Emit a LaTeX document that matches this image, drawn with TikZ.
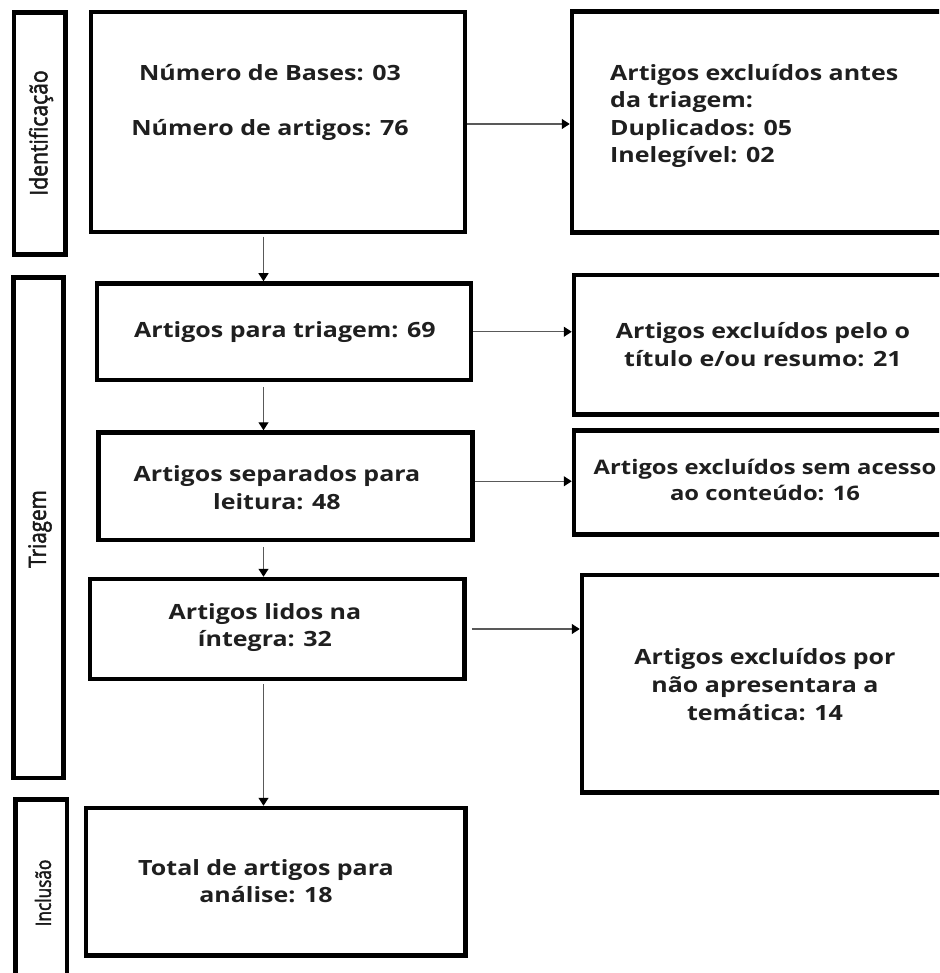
\documentclass[tikz,border=0pt]{standalone}
\usepackage{fontspec}
\setmainfont{Open Sans}
\newfontfamily\boxfont[FakeStretch=1.19]{Open Sans}
\newfontfamily\sidefont[FakeBold=2.2]{Open Sans}
\usetikzlibrary{arrows.meta}
\begin{document}
\begin{tikzpicture}[x=1pt,y=-1pt,
  box/.style={draw=black, line width=4.5pt, rectangle, inner sep=0pt},
  conn/.style={draw=black!65, line width=1.2pt, -{Triangle[length=8pt,width=10pt,black]}},
  txt/.style={font=\boxfont\bfseries\fontsize{21}{27.5}\selectfont, align=center, inner sep=0pt, text=black!88},
  side/.style={font=\sidefont\fontsize{24}{24}\selectfont, rotate=90, inner sep=0pt, text=black!90}]
\useasboundingbox (0,0) rectangle (939,973);
\clip (0,0) rectangle (939,973);
% side bars
\node[box, minimum width=51.5pt, minimum height=242pt] (s1) at (39.75,133.5) {};
\node[box, minimum width=50pt, minimum height=500.5pt] (s2) at (38.5,527.75) {};
\node[box, minimum width=51.5pt, minimum height=190.5pt] (s3) at (41.25,894.75) {};
\node[side] (l1) at (41,133) {\scalebox{0.88}[1]{Identificação}};
\node[side] (l2) at (40,529) {\scalebox{0.86}[1]{Triagem}};
\node[side, font=\sidefont\fontsize{21}{21}\selectfont] (l3) at (43,893) {\scalebox{0.82}[1]{Inclusão}};
% main boxes
\node[box, minimum width=374pt, minimum height=220pt] (b1) at (278,122) {};
\node[box, minimum width=374pt, minimum height=96.5pt] (b2) at (284,331.75) {};
\node[box, minimum width=374pt, minimum height=107.5pt] (b3) at (285.5,486.25) {};
\node[box, minimum width=374.5pt, minimum height=100pt] (b4) at (277.25,629) {};
\node[box, minimum width=379.5pt, minimum height=147.5pt] (b5) at (275.75,881.75) {};
% right boxes
\node[box, minimum width=383pt, minimum height=221pt] (r1) at (763.5,122) {};
\node[box, minimum width=381pt, minimum height=139.5pt] (r2) at (764.5,344.75) {};
\node[box, minimum width=381pt, minimum height=104pt] (r3) at (764.5,482.5) {};
\node[box, minimum width=373pt, minimum height=217.5pt] (r4) at (768.5,683.75) {};
% texts
\node[txt] (t1) at (270,102.5) {Número de Bases: 03\\[27.5pt]Número de artigos: 76};
\node[txt, anchor=west, align=left] (u1) at (610,116) {Artigos excluídos antes\\da triagem:\\Duplicados: 05\\Inelegível: 02};
\node[txt] (t2) at (285,332) {Artigos para triagem: 69};
\node[txt] (u2) at (763,344.5) {Artigos excluídos pelo o\\título e/ou resumo: 21};
\node[txt] (t3) at (277,487.5) {Artigos separados para\\leitura: 48};
\node[txt, font=\boxfont\bfseries\fontsize{20}{26}\selectfont] (u3) at (765,480) {Artigos excluídos sem acesso\\ao conteúdo: 16};
\node[txt] (t4) at (265,627.5) {Artigos lidos na\\íntegra: 32};
\node[txt, font=\boxfont\bfseries\fontsize{21}{28}\selectfont] (u4) at (765,684.5) {Artigos excluídos por\\não apresentara a\\temática: 14};
\node[txt] (t5) at (266,881) {Total de artigos para\\análise: 18};
% connectors
\coordinate (vx) at (263.5,0);
\draw[conn, shorten <=2.5pt] (b1.south -| vx) -- (b2.north -| vx);
\draw[conn, shorten <=4.5pt] (b2.south -| vx) -- (b3.north -| vx);
\draw[conn, shorten <=4.5pt] (b3.south -| vx) -- (b4.north -| vx);
\draw[conn, shorten <=3pt] (b4.south -| vx) -- (b5.north -| vx);
\draw[conn] ([yshift=-2pt]b1.east) -- ([yshift=-2pt]b1.east -| r1.west);
\draw[conn] (b2.east) -- (b2.east -| r2.west);
\draw[conn] ([yshift=5pt]b3.east) -- ([yshift=5pt]b3.east -| r3.west);
\draw[conn, shorten <=5pt] (b4.east) -- (b4.east -| r4.west);
\end{tikzpicture}
\end{document}
